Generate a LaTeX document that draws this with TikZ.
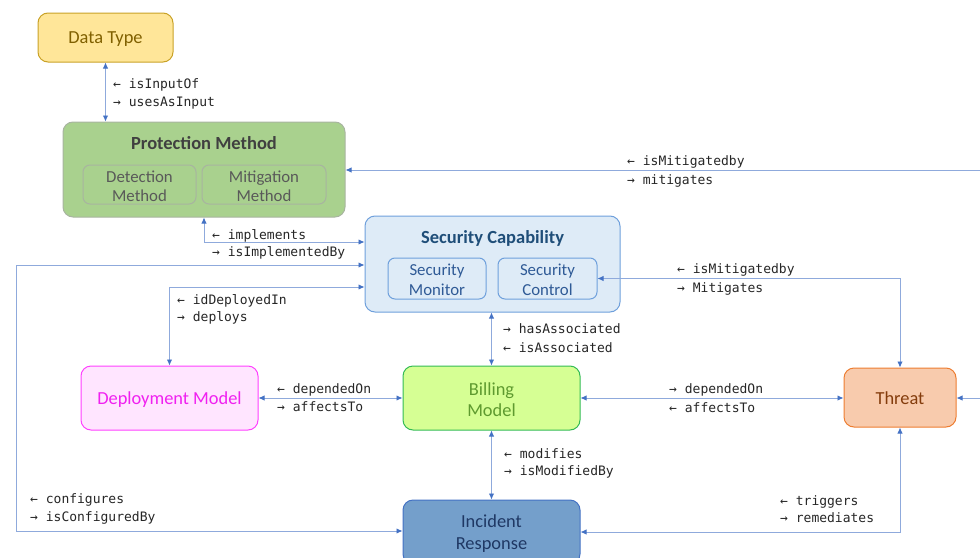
\documentclass[tikz,border=0pt]{standalone}
\usepackage{fontspec}
\setmainfont{Carlito}
\newfontfamily\monofam{DejaVu Sans Mono}
\usetikzlibrary{arrows.meta}

\definecolor{linec}{HTML}{8FAADC}
\definecolor{tipc}{HTML}{4472C4}
\definecolor{lblc}{HTML}{262626}
% Data Type
\definecolor{dtFill}{HTML}{FFE699}
\definecolor{dtDraw}{HTML}{C9A227}
\definecolor{dtText}{HTML}{806000}
% Protection Method
\definecolor{pmFill}{HTML}{A9D18E}
\definecolor{pmDraw}{HTML}{A8B4A0}
\definecolor{pmTitle}{HTML}{404040}
\definecolor{pmText}{HTML}{595959}
% Security Capability
\definecolor{scFill}{HTML}{DEEBF7}
\definecolor{scDraw}{HTML}{6FA0DC}
\definecolor{scTitle}{HTML}{1F4E79}
\definecolor{scText}{HTML}{2F5A96}
% Deployment Model
\definecolor{dmFill}{HTML}{FFE5FF}
\definecolor{dmDraw}{HTML}{FF40FF}
\definecolor{dmText}{HTML}{F020F0}
% Billing Model
\definecolor{bmFill}{HTML}{D6FF94}
\definecolor{bmDraw}{HTML}{33BB55}
\definecolor{bmText}{HTML}{5E9A2F}
% Threat
\definecolor{thFill}{HTML}{F8CBAD}
\definecolor{thDraw}{HTML}{ED7D31}
\definecolor{thText}{HTML}{843C0C}
% Incident Response
\definecolor{irFill}{HTML}{749FCB}
\definecolor{irDraw}{HTML}{4472C4}
\definecolor{irText}{HTML}{1F3864}

\begin{document}
\begin{tikzpicture}[x=1pt,y=-1pt,
  box/.style={draw, rounded corners=10pt, line width=1pt, inner sep=0pt},
  subbox/.style={draw, rounded corners=7pt, line width=1pt, inner sep=0pt},
  boxtext/.style={align=center, inner sep=0pt, font=\fontsize{18.4}{21}\selectfont},
  subtext/.style={align=center, inner sep=0pt, font=\fontsize{16.8}{19.5}\selectfont},
  title/.style={inner sep=0pt, font=\fontsize{18.5}{20}\selectfont\bfseries},
  conn/.style={draw=linec, line width=0.9pt,
    >={Latex[length=6pt,width=5.5pt,color=tipc]}},
  lbl/.style={anchor=west, align=left, inner sep=0pt, text=lblc,
    font=\monofam\fontsize{13}{18}\selectfont}
]
\useasboundingbox (0,0) rectangle (980,557);
\clip (0,0) rectangle (980,557);

% ---- boxes ----
\node[box, fill=dtFill, draw=dtDraw,
  minimum width=135pt, minimum height=49pt] (dt) at (105.5,37.5) {};
\node[boxtext, text=dtText] (dtL) at ([yshift=-1.5pt]dt.center) {Data Type};

\node[box, fill=pmFill, draw=pmDraw, minimum width=282pt, minimum height=95pt]
  (pm) at (204,169.5) {};
\node[title, text=pmTitle] (pmT) at (204,143) {Protection Method};
\node[subbox, fill=pmFill, draw=pmDraw,
  minimum width=113pt, minimum height=39pt] (det) at (139.5,184.5) {};
\node[subtext, text=pmText] (detL) at ([yshift=-2pt]det.center) {Detection\\Method};
\node[subbox, fill=pmFill, draw=pmDraw,
  minimum width=124pt, minimum height=39pt] (mit) at (264,184.5) {};
\node[subtext, text=pmText] (mitL) at ([yshift=-2pt]mit.center) {Mitigation\\Method};

\node[box, fill=scFill, draw=scDraw, minimum width=255pt, minimum height=96pt]
  (sc) at (492.5,264) {};
\node[title, text=scTitle] (scT) at (492.5,238) {Security Capability};
\node[subbox, fill=scFill, draw=scDraw,
  minimum width=98pt, minimum height=41pt] (mon) at (437,278.5) {};
\node[subtext, text=scText] (monL) at ([yshift=-1.5pt]mon.center) {Security\\Monitor};
\node[subbox, fill=scFill, draw=scDraw,
  minimum width=99pt, minimum height=41pt] (ctl) at (547.5,278.5) {};
\node[subtext, text=scText] (ctlL) at ([yshift=-1.5pt]ctl.center) {Security\\Control};

\node[box, fill=dmFill, draw=dmDraw,
  minimum width=177pt, minimum height=64pt] (dm) at (169.5,398) {};
\node[boxtext, text=dmText] (dmL) at ([yshift=-1.5pt]dm.center) {Deployment Model};
\node[box, fill=bmFill, draw=bmDraw,
  minimum width=177pt, minimum height=64pt] (bm) at (491.5,398) {};
\node[boxtext, text=bmText] (bmL) at ([yshift=-2pt]bm.center) {Billing\\Model};
\node[box, fill=thFill, draw=thDraw,
  minimum width=112pt, minimum height=59pt] (th) at (900,397.5) {};
\node[boxtext, text=thText] (thL) at ([yshift=-1pt]th.center) {Threat};
\node[box, fill=irFill, draw=irDraw,
  minimum width=177pt, minimum height=64pt] (ir) at (491.5,532) {};
\node[boxtext, text=irText, font=\fontsize{18.4}{22}\selectfont]
  (irL) at ([yshift=-2pt]ir.center) {Incident\\Response};

% ---- loose ends and bends ----
\coordinate (pmIn) at (981,170);
\coordinate (thIn) at (981,398);
\coordinate (bendImp) at (pm.south |- 0,242);
\coordinate (leftTop) at (16,265);
\coordinate (leftBot) at (16,531);
\coordinate (depBend) at (dm.north |- 0,287);

% ---- connectors ----
\draw[conn,<->] (dt.south) -- (dt.south |- pm.north);
\draw[conn,->] (pmIn) -- (pmIn -| pm.east);
\draw[conn,<->] (pm.south) -- (bendImp) -- (bendImp -| sc.west);
\draw[conn,<->] (leftTop -| sc.west) -- (leftTop) -- (leftBot) -- (leftBot -| ir.west);
\draw[conn,<->] (depBend -| sc.west) -- (depBend) -- (dm.north);
\draw[conn,<->] (bm.north |- sc.south) -- (bm.north);
\draw[conn,<->] (dm.east) -- (bm.west);
\draw[conn,<->] (bm.east) -- (bm.east -| th.west);
\draw[conn,->] (thIn) -- (thIn -| th.east);
\draw[conn,<->] (ctl.east) -| (th.north);
\draw[conn,<->] (bm.south) -- (bm.south |- ir.north);
\draw[conn,<->] (th.south) |- (ir.east);

% ---- relation labels ----
\node[lbl] (lDT)  at (113,93.5)  {← isInputOf\\→ usesAsInput};
\node[lbl] (lPM)  at (627,171.5) {← isMitigatedby\\[1.5pt]→ mitigates};
\node[lbl] (lImp) at (212,244.5) {← implements\\[-1pt]→ isImplementedBy};
\node[lbl] (lDep) at (177,309.5) {← idDeployedIn\\[-1pt]→ deploys};
\node[lbl] (lCtl) at (677,279)   {← isMitigatedby\\[1pt]→ Mitigates};
\node[lbl] (lAsc) at (503,338.5) {→ hasAssociated\\[1pt]← isAssociated};
\node[lbl] (lDB)  at (277,398)   {← dependedOn\\→ affectsTo};
\node[lbl] (lBT)  at (669,398.5) {→ dependedOn\\[1pt]← affectsTo};
\node[lbl] (lMod) at (504,463.5) {← modifies\\[-1pt]→ isModifiedBy};
\node[lbl] (lCfg) at (30,509)    {← configures\\→ isConfiguredBy};
\node[lbl] (lTrg) at (780,509.5) {← triggers\\[-1pt]→ remediates};
\end{tikzpicture}
\end{document}
